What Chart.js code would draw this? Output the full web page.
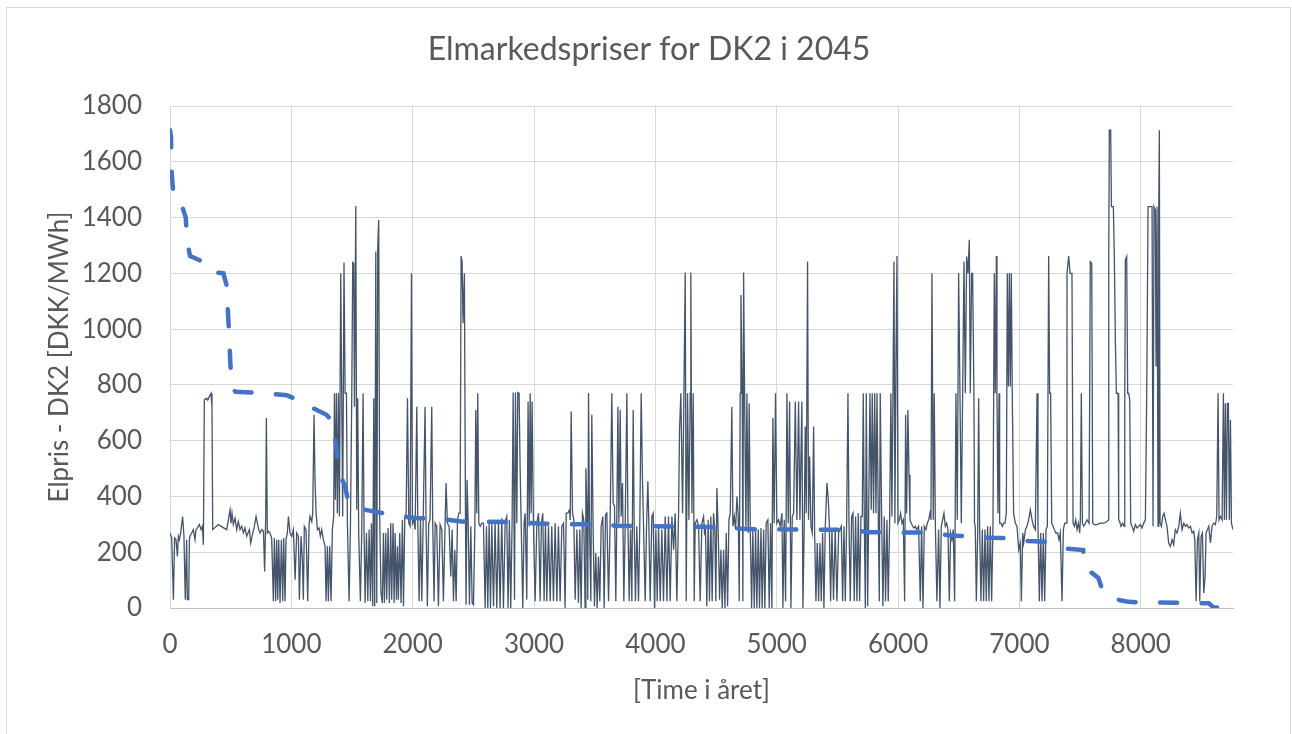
<!DOCTYPE html>
<html>
<head>
<meta charset="utf-8">
<script src="https://cdn.jsdelivr.net/npm/chart.js@4.4.1/dist/chart.umd.min.js"></script>
<style>
  html, body { margin: 0; padding: 0; background: #fff; }
</style>
</head>
<body>
<canvas id="priceChart" width="1292" height="734"></canvas>
<script>
// hourly prices, [hour, DKK/MWh], one block per ~1000 h
const hours0 = [[0,269],[14,251],[28,30],[38,251],[50,245],[61,185],[69,257],[77,245],[88,269],[104,328],[115,257],[126,30],[137,245],[143,30],[154,30],[160,245],[165,257],[179,269],[192,281],[206,245],[214,281],[225,287],[242,299],[256,281],[267,293],[275,227],[283,746],[302,752],[311,746],[324,758],[338,770],[346,722],[352,281],[398,299],[467,281],[481,316],[495,352],[503,304],[511,340],[522,299],[536,322],[550,281],[563,310],[577,281],[591,293],[605,269],[618,287],[632,257],[654,281],[665,233],[682,269],[693,287],[709,328],[720,304],[731,281],[742,269],[756,281],[770,275],[780,131],[789,340],[794,681],[802,269],[813,275],[824,269],[838,251],[852,24],[860,251],[871,24],[879,245],[888,30],[896,245],[907,18],[918,245],[929,24],[937,251],[948,24],[956,245],[967,269],[976,328],[989,269],[1003,257],[1017,281],[1031,101],[1044,269],[1058,257]];
const hours1 = [[1066,30],[1080,257],[1091,173],[1099,30],[1107,293],[1121,281],[1135,24],[1146,299],[1154,328],[1168,310],[1176,340],[1187,693],[1195,460],[1204,340],[1215,281],[1228,287],[1239,257],[1250,281],[1264,245],[1278,221],[1286,24],[1297,221],[1305,24],[1316,221],[1327,24],[1338,281],[1349,328],[1355,770],[1363,388],[1371,770],[1379,340],[1388,770],[1396,328],[1407,1200],[1415,770],[1423,328],[1434,1239],[1443,770],[1454,770],[1462,304],[1476,24],[1487,293],[1498,770],[1506,1239],[1514,1236],[1520,722],[1531,1441],[1539,352],[1547,752],[1555,269],[1569,24],[1580,269],[1591,770],[1599,281],[1608,18],[1619,269],[1630,24],[1641,281],[1652,24],[1660,304],[1671,6],[1679,752],[1687,6],[1696,1278],[1704,18],[1712,1295],[1720,1391],[1728,328],[1739,54],[1750,18],[1759,269],[1767,18],[1778,269],[1786,30],[1797,287],[1808,18],[1819,304],[1827,30],[1838,304],[1847,18],[1855,269],[1866,30],[1874,221],[1882,30],[1893,269],[1904,18],[1915,316],[1924,6],[1935,328],[1946,340],[1957,752],[1968,304],[1979,293],[1990,1200],[1998,304],[2009,316],[2020,281],[2034,722],[2042,304],[2053,24],[2064,316],[2075,24],[2086,304],[2102,722],[2110,304],[2121,6],[2132,304],[2143,316],[2157,722],[2165,304],[2176,24]];
const hours2 = [[2185,304],[2198,293],[2212,6],[2226,299],[2240,281],[2253,24],[2267,304],[2275,448],[2286,304],[2300,293],[2314,113],[2325,281],[2336,24],[2347,209],[2358,24],[2369,316],[2380,340],[2391,340],[2399,1262],[2407,1242],[2415,1021],[2426,1200],[2435,328],[2440,12],[2448,460],[2457,304],[2468,12],[2479,293],[2490,18],[2501,12],[2512,281],[2520,710],[2528,340],[2536,770],[2545,304],[2556,293],[2569,304],[2583,304],[2597,0],[2608,293],[2619,0],[2630,304],[2641,0],[2652,304],[2666,6],[2679,310],[2693,0],[2707,316],[2720,0],[2734,322],[2748,0],[2762,310],[2775,328],[2786,0],[2797,316],[2808,0],[2819,304],[2828,773],[2839,30],[2847,773],[2858,304],[2866,773],[2877,770],[2885,507],[2894,304],[2907,0],[2918,304],[2927,340],[2940,30],[2951,740],[2960,293],[2968,770],[2976,340],[2984,740],[2995,304],[3009,24],[3023,304],[3037,340],[3050,24],[3061,304],[3072,340],[3083,24],[3094,304],[3105,24],[3119,293],[3133,24],[3146,293],[3160,24],[3174,304],[3188,24],[3201,293],[3215,24],[3229,293],[3243,304],[3256,0],[3265,340],[3278,340],[3292,352]];
const hours3 = [[3298,316],[3306,705],[3317,340],[3328,316],[3339,30],[3353,281],[3366,18],[3377,281],[3388,0],[3399,340],[3410,316],[3421,0],[3427,501],[3435,370],[3443,30],[3449,770],[3457,304],[3468,24],[3476,693],[3487,281],[3498,6],[3509,197],[3520,0],[3531,185],[3542,24],[3553,293],[3567,328],[3578,0],[3589,334],[3600,340],[3614,24],[3627,304],[3641,770],[3652,376],[3663,364],[3674,24],[3682,328],[3691,722],[3699,304],[3710,710],[3718,328],[3729,448],[3740,24],[3751,293],[3765,770],[3773,328],[3784,24],[3795,281],[3806,24],[3817,710],[3825,304],[3836,24],[3847,293],[3861,24],[3872,316],[3883,770],[3894,448],[3902,304],[3916,24],[3927,293],[3938,454],[3946,304],[3957,24],[3971,328],[3982,340],[3993,0],[4004,281],[4015,24],[4026,287],[4040,24],[4053,281],[4067,24],[4081,328],[4095,24],[4108,328],[4122,24],[4136,328],[4150,209],[4163,340],[4177,24],[4191,340],[4199,639],[4210,770],[4224,340],[4235,770],[4246,1203],[4254,24],[4265,770],[4276,316],[4287,770],[4292,1203],[4301,340],[4312,770],[4320,24],[4328,304],[4342,316],[4356,293],[4369,24],[4383,304],[4397,328],[4405,269]];
const hours4 = [[4413,281],[4424,6],[4435,316],[4446,24],[4457,328],[4468,24],[4479,340],[4490,281],[4498,24],[4507,430],[4518,269],[4529,30],[4540,209],[4551,0],[4562,209],[4573,0],[4584,269],[4595,6],[4606,316],[4617,340],[4630,722],[4639,293],[4650,328],[4661,281],[4672,400],[4683,328],[4691,24],[4699,770],[4705,1122],[4716,770],[4721,24],[4727,1203],[4735,770],[4746,281],[4754,770],[4765,269],[4773,734],[4782,281],[4793,0],[4803,281],[4815,0],[4826,281],[4836,0],[4848,281],[4858,0],[4870,287],[4880,0],[4892,281],[4902,0],[4913,304],[4927,316],[4938,0],[4949,304],[4960,0],[4968,681],[4979,304],[4990,770],[5001,304],[5015,316],[5029,293],[5043,340],[5051,0],[5062,316],[5073,24],[5084,770],[5095,304],[5106,740],[5117,0],[5128,328],[5139,340],[5153,740],[5166,316],[5180,740],[5191,316],[5207,740],[5216,0],[5227,316],[5235,651],[5243,340],[5254,1242],[5262,316],[5271,543],[5282,293],[5293,269],[5304,651],[5312,281],[5323,24],[5334,233],[5345,24],[5356,233],[5367,24],[5378,269],[5389,0],[5400,293],[5414,448],[5425,388],[5433,304],[5444,24],[5455,281],[5468,30],[5482,281],[5496,24],[5510,269]];
const hours5 = [[5532,293],[5543,24],[5554,293],[5565,24],[5576,304],[5587,770],[5595,316],[5606,24],[5617,328],[5628,340],[5639,24],[5650,328],[5661,24],[5672,340],[5683,24],[5694,328],[5705,328],[5713,770],[5721,340],[5730,0],[5738,770],[5749,6],[5757,316],[5768,770],[5779,352],[5787,770],[5798,340],[5807,770],[5818,340],[5826,770],[5837,328],[5845,24],[5853,770],[5864,340],[5875,6],[5886,328],[5897,24],[5908,316],[5919,24],[5930,304],[5941,770],[5949,328],[5958,770],[5966,1242],[5974,304],[5982,872],[5991,1262],[5999,304],[6010,316],[6021,340],[6032,304],[6043,316],[6054,24],[6062,693],[6070,340],[6081,710],[6090,478],[6098,316],[6109,304],[6120,293],[6131,287],[6142,293],[6153,281],[6169,293],[6183,24],[6194,293],[6205,0],[6216,293],[6230,281],[6241,304],[6252,316],[6263,340],[6271,316],[6279,1200],[6290,316],[6298,770],[6307,304],[6320,24],[6334,281],[6345,0],[6356,293],[6367,316],[6378,340],[6389,293],[6400,304],[6411,281],[6422,24],[6433,269],[6444,245],[6455,281],[6466,24],[6477,770],[6488,316],[6499,1200],[6510,770],[6521,304],[6532,770],[6543,1242],[6554,770],[6565,1260],[6576,1200],[6587,1320],[6595,770],[6606,1200],[6614,1200],[6625,770],[6630,304],[6636,293]];
const hours6 = [[6645,24],[6656,269],[6664,752],[6672,281],[6683,24],[6694,281],[6705,24],[6716,281],[6727,24],[6738,293],[6749,24],[6760,293],[6771,24],[6782,293],[6793,1200],[6801,770],[6810,1262],[6815,770],[6823,340],[6832,770],[6837,304],[6848,304],[6859,293],[6870,304],[6881,304],[6892,340],[6900,1200],[6909,794],[6917,1200],[6925,794],[6933,1200],[6941,770],[6952,340],[6966,304],[6980,293],[6994,209],[7007,233],[7016,24],[7027,269],[7035,233],[7049,281],[7062,293],[7076,316],[7090,352],[7104,316],[7117,293],[7131,281],[7145,770],[7153,293],[7164,24],[7175,269],[7186,24],[7197,269],[7208,24],[7219,281],[7230,293],[7241,1262],[7249,770],[7257,770],[7266,304],[7277,293],[7288,281],[7299,269],[7315,269],[7326,245],[7337,269],[7351,24],[7362,281],[7373,304],[7384,304],[7392,1200],[7406,1262],[7417,1200],[7433,1200],[7442,304],[7453,293],[7464,316],[7475,281],[7486,304],[7497,269],[7502,316],[7510,770],[7519,304],[7530,293],[7543,304],[7557,316],[7574,304],[7584,1242],[7596,1236],[7604,304],[7617,299],[7639,299],[7667,304],[7694,304],[7722,310],[7733,316]];
const hours7 = [[7736,1260],[7741,1713],[7752,1713],[7758,1439],[7774,1439],[7782,1260],[7791,949],[7799,770],[7813,770],[7818,316],[7826,310],[7837,293],[7851,304],[7862,293],[7868,746],[7873,1248],[7884,1260],[7892,770],[7900,770],[7909,746],[7917,304],[7928,293],[7942,275],[7955,299],[7969,287],[7983,293],[7997,299],[8010,287],[8024,304],[8038,316],[8049,770],[8060,1439],[8079,1439],[8093,1439],[8101,293],[8109,1439],[8120,1427],[8126,866],[8134,1439],[8142,293],[8148,1427],[8153,1713],[8159,304],[8170,293],[8181,328],[8192,340],[8203,316],[8216,293],[8230,233],[8244,221],[8258,245],[8271,227],[8285,281],[8299,269],[8313,293],[8326,340],[8340,281],[8354,304],[8368,293],[8381,299],[8395,287],[8409,293],[8423,269],[8436,275],[8445,245],[8456,24],[8467,245],[8478,269],[8486,24],[8497,257],[8508,269],[8519,54],[8530,113],[8538,269],[8549,281],[8560,293],[8574,233],[8587,293],[8601,304],[8615,299],[8626,328],[8637,770],[8645,316],[8656,328],[8670,316],[8681,770],[8689,316],[8697,734],[8706,316],[8714,734],[8722,734],[8730,316],[8739,675],[8747,304],[8760,281]];

// sorted (duration) curve
const durationHours = [0,8,14,25,55,100,130,140,165,280,330,440,465,485,497,510,540,783,962,1072,1180,1290,1345,1375,1390,1443,1470,1608,1760,1896,2047,2226,2400,2870,3050,3215,3400,3570,3724,4246,4410,4589,4740,5262,5606,5757,6280,6430,6595,6746,6925,7076,7227,7378,7525,7545,7600,7650,7690,7740,7830,7900,8000,8300,8560,8600,8760];
const durationPrices = [1713,1690,1560,1500,1448,1440,1400,1320,1262,1240,1205,1200,1160,1000,880,790,775,770,763,742,716,693,665,560,490,436,378,352,340,328,322,320,310,308,303,301,300,298,294,292,291,288,283,281,280,272,270,260,257,252,250,240,237,213,208,140,125,108,56,38,28,22,20,19,17,2,0];

const xTickValues = [0, 1000, 2000, 3000, 4000, 5000, 6000, 7000, 8000];
const yTickValues = [0, 200, 400, 600, 800, 1000, 1200, 1400, 1600, 1800];

const FONT = 'Lato, "Liberation Sans", sans-serif';
const TXT = '#595959';

const hourly = [hours0, hours1, hours2, hours3, hours4, hours5, hours6, hours7]
  .flat().map(p => ({ x: p[0], y: p[1] }));
const sorted = durationHours.map((h, i) => ({ x: h, y: durationPrices[i] }));

const frame = {
  id: 'frame',
  beforeDraw(chart) {
    const c = chart.ctx;
    c.save();
    c.fillStyle = '#fff';
    c.fillRect(0, 0, chart.width, chart.height);
    c.strokeStyle = '#d9d9d9';
    c.lineWidth = 1;
    c.strokeRect(6.5, 7.5, 1284, 740);
    c.fillStyle = TXT;
    c.font = '32px ' + FONT;
    c.textAlign = 'center';
    c.textBaseline = 'middle';
    c.fillText('Elmarkedspriser for DK2 i 2045', 649, 50);
    c.restore();
  }
};

new Chart(document.getElementById('priceChart'), {
  type: 'line',
  data: {
    datasets: [
      {
        label: 'Varighedskurve',
        data: sorted,
        borderColor: '#4472C4',
        borderWidth: 4.5,
        borderDash: [17, 24.5],
        borderCapStyle: 'round',
        pointRadius: 0,
        tension: 0,
        order: 0
      },
      {
        label: 'Elpris',
        data: hourly,
        borderColor: '#44546A',
        borderWidth: 1.3,
        pointRadius: 0,
        tension: 0,
        order: 1
      }
    ]
  },
  options: {
    responsive: false,
    animation: false,
    layout: { padding: { top: 106, right: 59, bottom: 0, left: 0 } },
    plugins: {
      legend: { display: false },
      tooltip: { enabled: false },
      title: { display: false }
    },
    scales: {
      x: {
        type: 'linear',
        min: 0,
        max: 8760,
        afterBuildTicks(s) { s.ticks = xTickValues.map(v => ({ value: v })); },
        ticks: { color: TXT, font: { family: FONT, size: 26 }, padding: 21, maxRotation: 0, autoSkip: false, callback: v => String(v) },
        grid: { color: '#d9d9d9', drawTicks: false },
        border: { color: '#bfbfbf' },
        title: { display: true, text: '[Time i året]', color: TXT, font: { family: FONT, size: 26 }, padding: { top: 0, bottom: 28 } },
        afterFit(s) { s.height = 126; }
      },
      y: {
        min: 0,
        max: 1800,
        afterBuildTicks(s) { s.ticks = yTickValues.map(v => ({ value: v })); },
        ticks: { color: TXT, font: { family: FONT, size: 26 }, padding: 28, callback: v => String(v) },
        grid: { color: '#d9d9d9', drawTicks: false },
        border: { color: '#d9d9d9' },
        title: { display: true, text: 'Elpris - DK2 [DKK/MWh]', color: TXT, font: { family: FONT, size: 26 }, padding: { top: 44, bottom: 0 } },
        afterFit(s) { s.width = 170; }
      }
    }
  },
  plugins: [frame]
});
</script>
</body>
</html>
